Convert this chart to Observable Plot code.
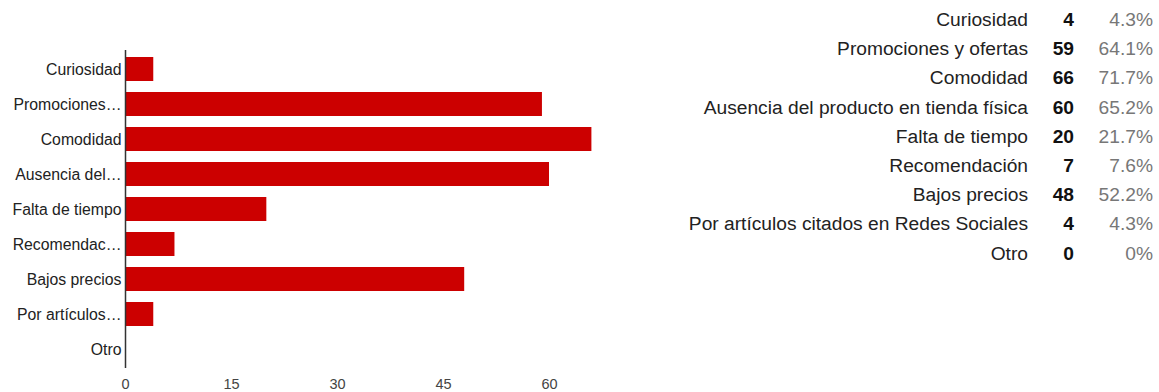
<!DOCTYPE html>
<html>
<head>
<meta charset="utf-8">
<script src="https://cdn.jsdelivr.net/npm/d3@7"></script>
<script src="https://cdn.jsdelivr.net/npm/@observablehq/plot@0.6"></script>
<style>
  html, body { margin: 0; padding: 0; background: #fff; }
  #wrap { position: relative; width: 1159px; height: 392px; overflow: hidden; font-family: "Liberation Sans", Arial, sans-serif; }
  #chart { position: absolute; left: 0; top: 0; }
  .row { position: absolute; height: 22px; line-height: 22px; font-size: 19.2px; white-space: nowrap; }
  .name { color: #222; text-align: right; }
  .count { color: #111; font-weight: bold; text-align: right; }
  .pct { color: #777; text-align: right; }
</style>
</head>
<body>
<div id="wrap"><div id="chart"></div><div id="table"></div></div>
<script>
const categories = ["Curiosidad", "Promociones y ofertas", "Comodidad", "Ausencia del producto en tienda física", "Falta de tiempo", "Recomendación", "Bajos precios", "Por artículos citados en Redes Sociales", "Otro"];
const shortLabels = ["Curiosidad", "Promociones…", "Comodidad", "Ausencia del…", "Falta de tiempo", "Recomendac…", "Bajos precios", "Por artículos…", "Otro"];
const counts = [4, 59, 66, 60, 20, 7, 48, 4, 0];
const percents = ["4.3%", "64.1%", "71.7%", "65.2%", "21.7%", "7.6%", "52.2%", "4.3%", "0%"];
const xTicks = [0, 15, 30, 45, 60];

const data = categories.map((c, i) => ({category: c, count: counts[i]}));
const shortOf = new Map(categories.map((c, i) => [c, shortLabels[i]]));

const chart = Plot.plot({
  width: 660,
  height: 392,
  marginLeft: 125,
  marginRight: 5,
  marginTop: 50,
  marginBottom: 24,
  style: {fontFamily: "'Liberation Sans', Arial, sans-serif", background: "transparent"},
  x: {domain: [0, 75]},
  y: {domain: categories, paddingInner: 0.31, paddingOuter: 0.185},
  marks: [
    Plot.barX(data, {x: "count", y: "category", fill: "#cc0000"}),
    Plot.axisX({ticks: xTicks, tickSize: 0, tickPadding: 10, fontSize: 14.5, fill: "#444", label: null}),
    Plot.axisY({tickSize: 0, tickPadding: 4, fontSize: 15.8, fill: "#222", label: null, tickFormat: d => shortOf.get(d)}),
    Plot.ruleX([0], {stroke: "#333", strokeWidth: 1.5})
  ]
});
document.getElementById("chart").appendChild(chart);

const table = document.getElementById("table");
const rowStep = 29.2, rowTop = 20;
categories.forEach((c, i) => {
  const cy = rowTop + rowStep * i - 11;
  const cells = [
    {cls: "name", text: c, right: 1028, w: 400},
    {cls: "count", text: String(counts[i]), right: 1074, w: 40},
    {cls: "pct", text: percents[i], right: 1153, w: 70}
  ];
  cells.forEach(cell => {
    const d = document.createElement("div");
    d.className = "row " + cell.cls;
    d.style.top = cy + "px";
    d.style.left = (cell.right - cell.w) + "px";
    d.style.width = cell.w + "px";
    d.textContent = cell.text;
    table.appendChild(d);
  });
});
</script>
</body>
</html>
